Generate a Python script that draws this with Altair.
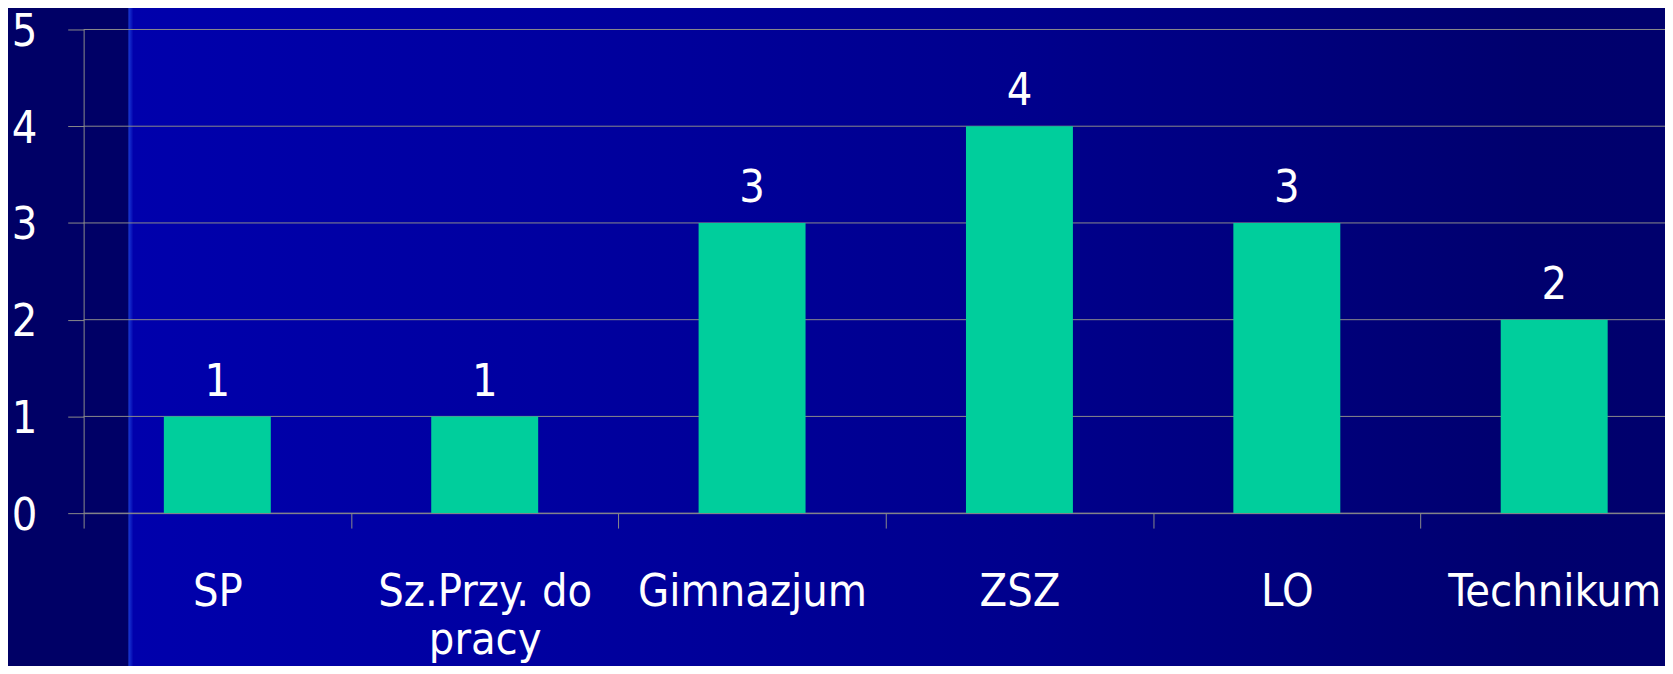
import altair as alt
import pandas as pd

categories = ["SP", "Sz.Przy. do\npracy", "Gimnazjum", "ZSZ", "LO", "Technikum"]
values = [1, 1, 3, 4, 3, 2]
y_ticks = [0, 1, 2, 3, 4, 5]

df = pd.DataFrame({"kat": categories, "liczba": values})
grid_df = pd.DataFrame({"v": y_ticks})
bg_df = pd.DataFrame({"k": [0]})

FONT = "DejaVu Sans Condensed, DejaVu Sans"
GRAY = "#8a8a8a"
W, H = 1589, 486
X_RANGE = 1612

xscale = alt.Scale(domain=categories, range=[0, X_RANGE], paddingInner=0, paddingOuter=0)
yscale = alt.Scale(domain=[0, 5], nice=False, zero=True)

xaxis = alt.Axis(
    title=None, grid=False, zindex=1,
    domainColor=GRAY, domainWidth=1, tickColor=GRAY, tickSize=15, tickBand="extent",
    labelFont=FONT, labelFontSize=45, labelColor="white", labelPadding=42,
    labelBaseline="top", labelLineHeight=48, labelAngle=0, labelOverlap=False,
    labelLimit=0, labelExpr="split(datum.label, '\\n')",
)
yaxis = alt.Axis(
    title=None, grid=False, zindex=1, values=y_ticks, format="d",
    domainColor=GRAY, domainWidth=1, tickColor=GRAY, tickSize=16,
    labelFont=FONT, labelFontSize=45, labelColor="white", labelPadding=31,
    labelOffset=2,
)

grad = alt.LinearGradient(
    gradient="linear", x1=0, x2=1, y1=0, y2=0,
    stops=[
        alt.GradientStop(color="#1a3ad6", offset=0),
        alt.GradientStop(color="#0000ac", offset=0.003),
        alt.GradientStop(color="#0000a0", offset=0.25),
        alt.GradientStop(color="#00008c", offset=0.55),
        alt.GradientStop(color="#00006e", offset=0.85),
        alt.GradientStop(color="#00006c", offset=1),
    ],
)

bg = alt.Chart(bg_df).mark_rect(color=grad).encode(
    x=alt.value(45), x2=alt.value(1700), y=alt.value(-40), y2=alt.value(700)
)

grid = alt.Chart(grid_df).mark_rule(color=GRAY, strokeWidth=1).encode(
    y=alt.Y("v:Q", scale=yscale, axis=yaxis)
)

bars = alt.Chart(df).mark_bar(color="#00CE9C", width=alt.RelativeBandSize(0.4)).encode(
    x=alt.X("kat:N", scale=xscale, sort=categories, axis=xaxis),
    y=alt.Y("liczba:Q", scale=yscale, axis=yaxis),
)

labels = alt.Chart(df).mark_text(
    dy=-21, baseline="alphabetic", align="center", fontSize=45, color="white", font=FONT
).encode(
    x=alt.X("kat:N", scale=xscale, sort=categories, axis=xaxis),
    y=alt.Y("liczba:Q", scale=yscale, axis=yaxis),
    text=alt.Text("liczba:Q"),
)

chart = alt.layer(bg, grid, bars, labels).properties(
    width=W, height=H,
    autosize=alt.AutoSizeParams(type="none"),
    padding={"left": 76, "top": 20, "right": 0, "bottom": 152},
).configure(background="#000066").configure_view(stroke=None)

chart.save("out.html", embed_options={"renderer": "svg", "actions": False})
